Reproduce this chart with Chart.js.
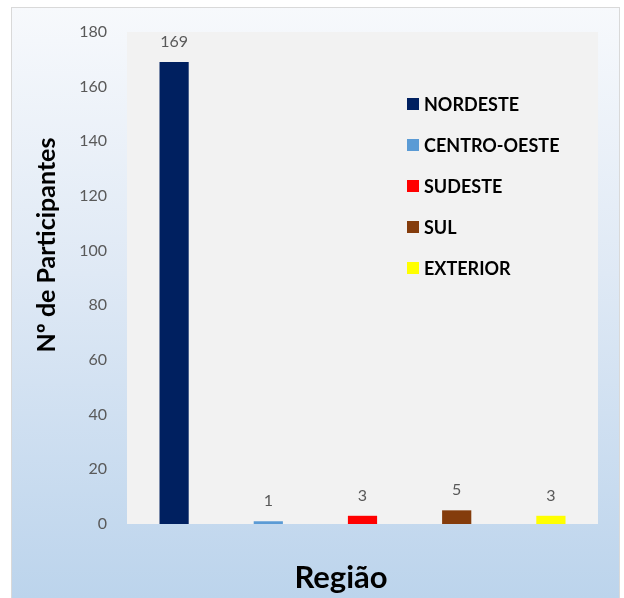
<!DOCTYPE html>
<html>
<head>
<meta charset="utf-8">
<style>
  html, body { margin: 0; padding: 0; background: #ffffff; }
  #wrap { width: 624px; height: 598px; }
</style>
<script src="https://cdn.jsdelivr.net/npm/chart.js@4/dist/chart.umd.min.js"></script>
</head>
<body>
<div id="wrap"><canvas id="chart" width="624" height="598"></canvas></div>
<script>
// Participants by region
const regions = ['NORDESTE', 'CENTRO-OESTE', 'SUDESTE', 'SUL', 'EXTERIOR'];
const participants = [169, 1, 3, 5, 3];
const regionColors = ['#002060', '#5b9bd5', '#ff0000', '#843c0c', '#ffff00'];
const groupLabels = [''];
const yAxisTitle = 'Nº de Participantes';
const xAxisTitle = 'Região';

const FONT = 'Lato, "Open Sans", sans-serif';

// Panel background, plot-area fill, value labels, legend and axis titles
const decor = {
  id: 'decor',
  beforeDraw(chart) {
    const ctx = chart.ctx;
    const a = chart.chartArea;
    ctx.save();
    ctx.fillStyle = '#ffffff';
    ctx.fillRect(0, 0, chart.width, chart.height);
    const g = ctx.createLinearGradient(0, 7, 0, chart.height);
    g.addColorStop(0, '#f7f9fc');
    g.addColorStop(0.45, '#dfe9f5');
    g.addColorStop(1, '#bcd4ec');
    ctx.fillStyle = g;
    ctx.fillRect(11, 7, 609, chart.height - 7);
    ctx.strokeStyle = '#d9d9d9';
    ctx.lineWidth = 1;
    ctx.strokeRect(11.5, 7.5, 608, chart.height);
    ctx.fillStyle = '#f2f2f2';
    ctx.fillRect(a.left, a.top, a.right - a.left, a.bottom - a.top);
    ctx.restore();
  },
  afterDatasetsDraw(chart) {
    const ctx = chart.ctx;
    ctx.save();
    ctx.font = '16px ' + FONT;
    ctx.fillStyle = '#595959';
    ctx.textAlign = 'center';
    ctx.textBaseline = 'bottom';
    chart.data.datasets.forEach((ds, i) => {
      const bar = chart.getDatasetMeta(i).data[0];
      ctx.fillText(String(ds.data[0]), bar.x, bar.y - 12);
    });
    ctx.restore();
  },
  afterDraw(chart) {
    const ctx = chart.ctx;
    ctx.save();
    // legend inside the plot area
    ctx.font = 'bold 18px ' + FONT;
    ctx.textBaseline = 'middle';
    ctx.textAlign = 'left';
    chart.data.datasets.forEach((ds, i) => {
      const y = 104 + i * 41;
      ctx.fillStyle = ds.backgroundColor;
      ctx.fillRect(407, y - 6, 12, 12);
      ctx.fillStyle = '#000000';
      ctx.fillText(ds.label, 424, y + 1);
    });
    // axis titles
    ctx.fillStyle = '#000000';
    ctx.textAlign = 'center';
    ctx.font = 'bold 31px ' + FONT;
    ctx.fillText(xAxisTitle, 341, 578);
    ctx.translate(47, 245);
    ctx.rotate(-Math.PI / 2);
    ctx.font = 'bold 25px ' + FONT;
    ctx.fillText(yAxisTitle, 0, 0);
    ctx.restore();
  }
};

new Chart(document.getElementById('chart'), {
  type: 'bar',
  data: {
    labels: groupLabels,
    datasets: regions.map((r, i) => ({
      label: r,
      data: [participants[i]],
      backgroundColor: regionColors[i],
      borderWidth: 0
    }))
  },
  options: {
    responsive: false,
    animation: false,
    devicePixelRatio: 1,
    layout: { padding: { top: 32, right: 26, left: 0, bottom: 0 } },
    datasets: { bar: { categoryPercentage: 1.0, barPercentage: 0.31 } },
    plugins: {
      legend: { display: false },
      tooltip: { enabled: false }
    },
    scales: {
      x: {
        grid: { display: false, drawTicks: false },
        border: { display: false },
        ticks: { display: false },
        afterFit(s) { s.height = 74; }
      },
      y: {
        min: 0,
        max: 180,
        grid: { display: false, drawTicks: false },
        border: { display: false },
        ticks: {
          stepSize: 20,
          padding: 20,
          color: '#595959',
          font: { family: FONT, size: 16 }
        },
        afterFit(s) { s.width = 127; }
      }
    }
  },
  plugins: [decor]
});
</script>
</body>
</html>
